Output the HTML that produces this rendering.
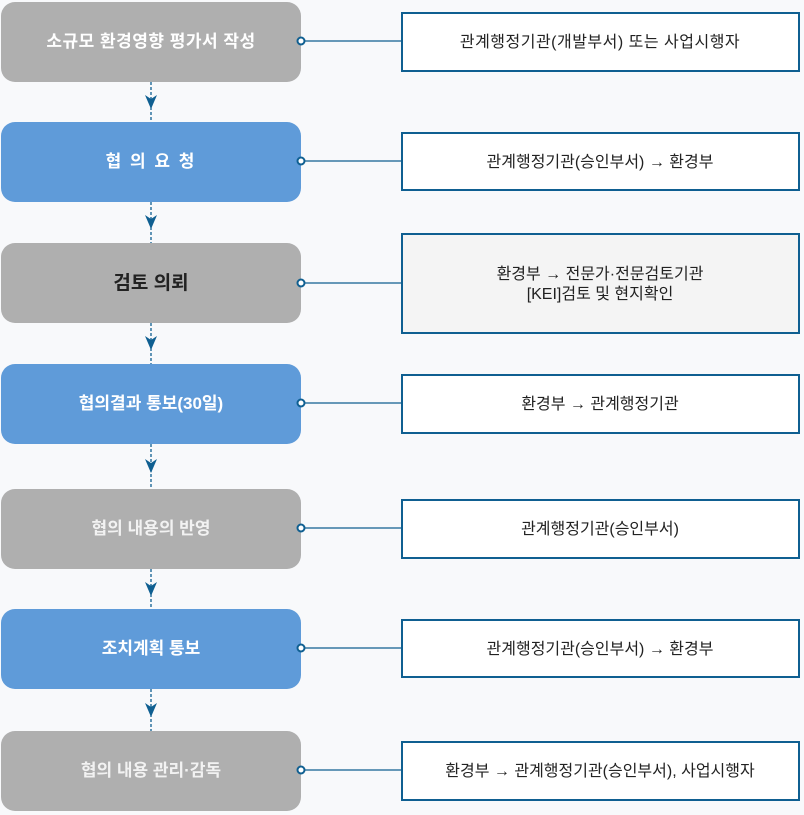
<!DOCTYPE html>
<html><head><meta charset="utf-8"><style>
html,body{margin:0;padding:0;background:#f8f9fb;}
svg{display:block;font-family:"Liberation Sans","Noto Sans CJK KR",sans-serif;}
</style></head><body>
<svg width="804" height="815" viewBox="0 0 804 815" xmlns="http://www.w3.org/2000/svg">
<rect width="804" height="815" fill="#f8f9fb"/>
<g stroke="#0f5f91" stroke-width="1.3" stroke-dasharray="3,2">
<line x1="151" y1="82" x2="151" y2="122"/>
<line x1="151" y1="202" x2="151" y2="243"/>
<line x1="151" y1="323" x2="151" y2="364"/>
<line x1="151" y1="444" x2="151" y2="489"/>
<line x1="151" y1="569" x2="151" y2="609"/>
<line x1="151" y1="689" x2="151" y2="731"/>
</g>
<g fill="#0f5f91">
<path d="M145 95 L151 99 L157 95 L151 109 Z"/>
<path d="M145 215 L151 219 L157 215 L151 229 Z"/>
<path d="M145 336 L151 340 L157 336 L151 350 Z"/>
<path d="M145 459 L151 463 L157 459 L151 473 Z"/>
<path d="M145 582 L151 586 L157 582 L151 596 Z"/>
<path d="M145 703 L151 707 L157 703 L151 717 Z"/>
</g>
<rect x="1" y="2" width="300" height="80" rx="14" fill="#afafaf"/>
<rect x="1" y="122" width="300" height="80" rx="14" fill="#5f9bd9"/>
<rect x="1" y="243" width="300" height="80" rx="14" fill="#afafaf"/>
<rect x="1" y="364" width="300" height="80" rx="14" fill="#5f9bd9"/>
<rect x="1" y="489" width="300" height="80" rx="14" fill="#afafaf"/>
<rect x="1" y="609" width="300" height="80" rx="14" fill="#5f9bd9"/>
<rect x="1" y="731" width="300" height="80" rx="14" fill="#afafaf"/>
<g font-size="17" fill="#fff" text-anchor="middle">
<text x="151" y="47" font-weight="bold" letter-spacing="0.5">소규모 환경영향 평가서 작성</text>
<text x="151" y="167" font-weight="bold" letter-spacing="2">협 의 요 청</text>
<text x="151" y="289" font-weight="bold" font-size="19" fill="#222">검토 의뢰</text>
<text x="151" y="409" font-weight="bold">협의결과 통보(30일)</text>
<text x="151" y="534" font-weight="bold" fill="#f2f2f2">협의 내용의 반영</text>
<text x="151" y="654" font-weight="bold">조치계획 통보</text>
<text x="151" y="776" font-weight="bold" fill="#f2f2f2">협의 내용 관리·감독</text>
</g>
<g stroke="#0f5f91" stroke-width="1.3">
<line x1="301" y1="41" x2="402" y2="41"/>
<line x1="301" y1="161" x2="402" y2="161"/>
<line x1="301" y1="283" x2="402" y2="283"/>
<line x1="301" y1="403" x2="402" y2="403"/>
<line x1="301" y1="528" x2="402" y2="528"/>
<line x1="301" y1="648" x2="402" y2="648"/>
<line x1="301" y1="770" x2="402" y2="770"/>
</g>
<g fill="#fff" stroke="#0f5f91" stroke-width="2">
<circle cx="301" cy="41" r="3.5"/><circle cx="301" cy="161" r="3.5"/><circle cx="301" cy="283" r="3.5"/>
<circle cx="301" cy="403" r="3.5"/><circle cx="301" cy="528" r="3.5"/><circle cx="301" cy="648" r="3.5"/>
<circle cx="301" cy="770" r="3.5"/>
</g>
<g fill="#fff" stroke="#0f5f91" stroke-width="2">
<rect x="402" y="13" width="397" height="58"/>
<rect x="402" y="133" width="397" height="57"/>
<rect x="402" y="234" width="397" height="99" fill="#f4f4f4"/>
<rect x="402" y="375" width="397" height="58"/>
<rect x="402" y="500" width="397" height="58"/>
<rect x="402" y="620" width="397" height="57"/>
<rect x="402" y="742" width="397" height="58"/>
</g>
<g font-size="16" fill="#222" text-anchor="middle">
<text x="600" y="47" letter-spacing="0.5">관계행정기관(개발부서) 또는 사업시행자</text>
<text x="600" y="167">관계행정기관(승인부서) → 환경부</text>
<text x="600" y="279">환경부 → 전문가·전문검토기관</text>
<text x="600" y="299">[KEI]검토 및 현지확인</text>
<text x="600" y="409">환경부 → 관계행정기관</text>
<text x="600" y="534">관계행정기관(승인부서)</text>
<text x="600" y="654">관계행정기관(승인부서) → 환경부</text>
<text x="600" y="776">환경부 → 관계행정기관(승인부서), 사업시행자</text>
</g>
</svg>
</body></html>
